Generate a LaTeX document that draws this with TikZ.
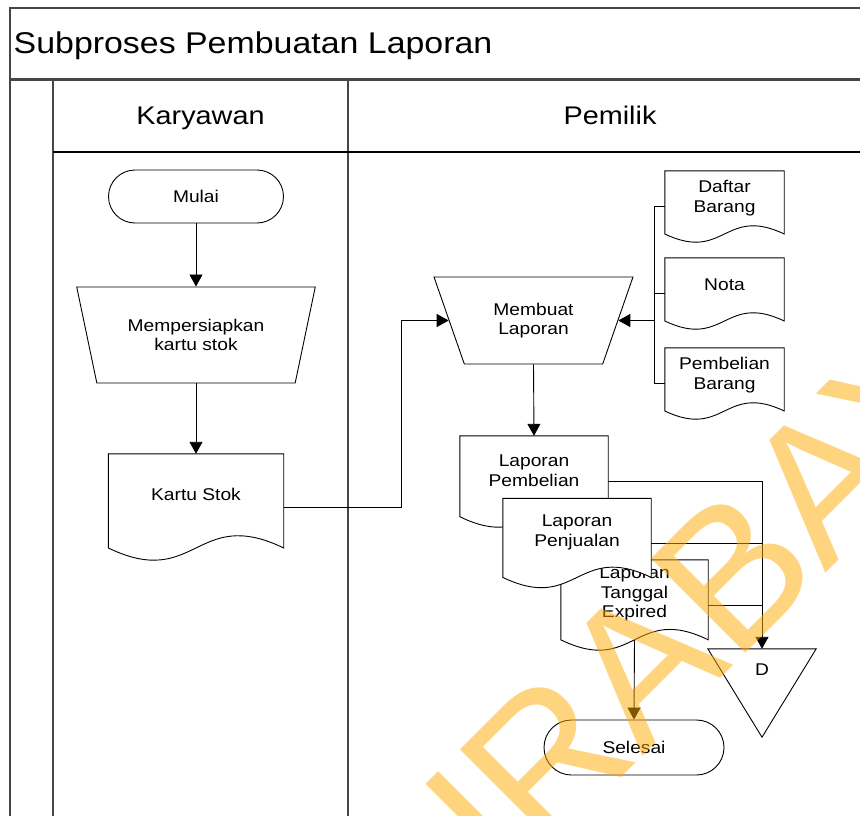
\documentclass[tikz,border=0pt]{standalone}
\usepackage{fontspec}
\setmainfont{Liberation Sans}[FakeStretch=1.13]
\newfontfamily\markfont{Liberation Sans}
\usetikzlibrary{shapes.geometric,shapes.misc,arrows.meta,calc}

\definecolor{framegray}{RGB}{70,70,70}
\definecolor{markorange}{RGB}{255,170,0}

\tikzset{
  lanes/.style={draw=framegray, line width=1.6pt},
  txt/.style={font=\fontsize{17}{19.5}\selectfont, align=center, inner sep=0pt},
  terminal/.style={rounded rectangle, draw, line width=0.9pt, fill=white, txt,
    minimum height=53pt},
  manualop/.style={trapezium, shape border rotate=180, trapezium stretches=true,
    draw, line width=0.9pt, fill=white, txt},
  docframe/.style={inner sep=0pt, draw=none},
  docline/.style={draw, fill=white, line width=0.9pt},
  flow/.style={draw, line width=0.9pt, -{Triangle[length=12pt,width=13pt]}},
  link/.style={draw, line width=0.9pt},
  lanehead/.style={font=\fontsize{25.5}{30}\selectfont, inner sep=0pt, anchor=base},
}

% document symbol: white body with a wavy lower edge, text in its upper part
\newcommand\flowdoc[6]{%
  \node[docframe, minimum width=#4pt, minimum height=#5pt] (#1) at (#2,#3) {};
  \path[docline] (#1.north west) -- (#1.north east)
    -- ($(#1.south east)!0.115!(#1.north east)$)
    .. controls ($(#1.south)!0.513!(#1.north)$) and ($(#1.south)!-0.283!(#1.north)$)
    .. ($(#1.south west)!0.115!(#1.north west)$) -- cycle;
  \node[txt] (#1-t) at ($(#1.center)!0.24!(#1.north)$) {#6};
}

\begin{document}
\begin{tikzpicture}[x=1pt,y=-1pt]
\useasboundingbox (0,0) rectangle (860,816);
\clip (0,0) rectangle (860,816);
\fill[white] (0,0) rectangle (860,816);

% pool frame and lanes
\draw[lanes] (10,816) -- (10,8) -- (872,8);
\draw[lanes, line width=2.6pt] (10,79.5) -- (872,79.5);
\draw[lanes] (53,80) -- (53,816);
\draw[lanes] (348,80) -- (348,816);
\draw[lanes, draw=black, line width=1.3pt] (53,152) -- (872,152);

\node[font=\fontsize{30}{36}\selectfont, inner sep=0pt, anchor=base west] (title) at (13.5,53.3) {Subproses Pembuatan Laporan};
\node[lanehead] (lane1) at (200.5,124.5) {Karyawan};
\node[lanehead] (lane2) at (610,124.5) {Pemilik};

% Karyawan lane
\node[terminal, minimum width=175pt] (mulai) at (196,196.5) {Mulai};
\node[manualop, minimum width=239pt, minimum height=96pt, trapezium angle=66.6] (siap) at (196,335) {Mempersiapkan\\kartu stok};
\flowdoc{ks}{196}{507}{175}{106}{Kartu Stok}

% Pemilik lane
\node[manualop, minimum width=199pt, minimum height=87pt, trapezium angle=63.6] (buat) at (533.5,320.5) {Membuat\\Laporan};
\flowdoc{db}{724.5}{206.5}{119}{71}{Daftar\\Barang}
\flowdoc{nt}{724.5}{293.5}{119}{71}{Nota}
\flowdoc{pb}{724.5}{383.5}{119}{71}{Pembelian\\Barang}

\flowdoc{lp}{534}{481.5}{148}{91}{Laporan\\Pembelian}
\flowdoc{lt}{634.5}{605}{147}{90}{Laporan\\Tanggal\\Expired}
\flowdoc{lj}{577}{543}{148}{89}{Laporan\\Penjualan}

\node[docframe, minimum width=108pt, minimum height=88pt] (dm) at (762,693) {};
\path[docline] (dm.north west) -- (dm.north east) -- (dm.south) -- cycle;
\node[txt] (dm-t) at (762,670) {D};

\node[terminal, minimum width=180pt, minimum height=55pt] (selesai) at (634,747.5) {Selesai};

% connectors
\draw[flow] (mulai.south) -- (siap.90);
\draw[flow] (siap.270) -- (ks.north);
\draw[flow] (ks.east) -- ++(118,0) |- (buat.180);

\coordinate (bus) at ($(buat.0)+(36,0)$);
\draw[link] (db.west) -| (bus);
\draw[link] (nt.west) -| (bus);
\draw[link] (pb.west) -| (bus);
\draw[flow] (bus) -- (buat.0);

\draw[flow] (buat.270) -- (lp.north);
\draw[flow] (lp.east) -| (dm.north);
\draw[link] (lj.east) -- (lj.east -| dm.north);
\draw[link] (lt.east) -- (lt.east -| dm.north);
\draw[flow] ($(lt.south)!0.115!(lt.north)$) -- (selesai.north);

% watermark lettering across the sheet
\node[font=\markfont\fontsize{194}{194}\selectfont, text=markorange, text opacity=0.5,
  rotate=45, anchor=base west, inner sep=0pt] (mark) at (353,1046) {SURABAYA};
\end{tikzpicture}
\end{document}
